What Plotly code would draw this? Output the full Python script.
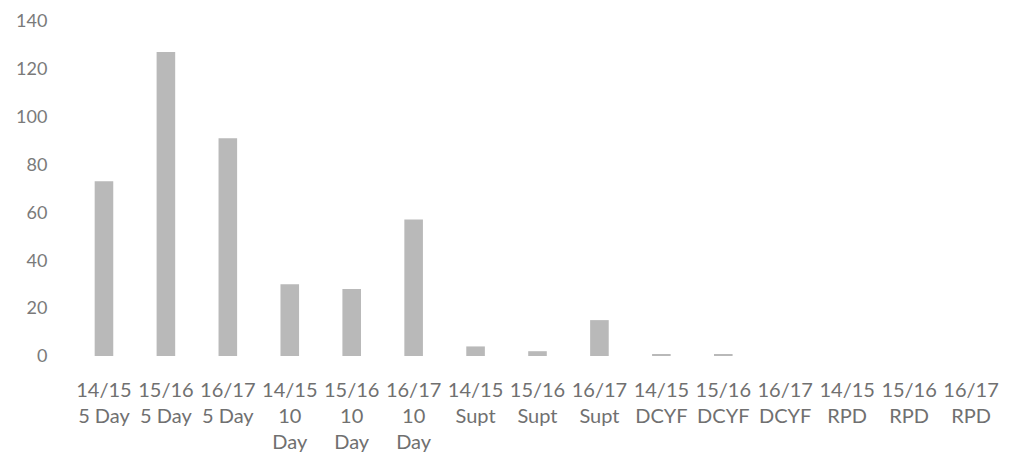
import plotly.graph_objects as go

periods = ["14/15", "15/16", "16/17"] * 5
programs = ["5 Day"] * 3 + ["10<br>Day"] * 3 + ["Supt"] * 3 + ["DCYF"] * 3 + ["RPD"] * 3
categories = [f"{p}<br>{g}" for p, g in zip(periods, programs)]
values = [73, 127, 91, 30, 28, 57, 4, 2, 15, 0.5, 0.5, 0, 0, 0, 0]
y_ticks = [0, 20, 40, 60, 80, 100, 120, 140]

fig = go.Figure(go.Bar(x=list(range(len(categories))), y=values,
                       marker=dict(color="#b9b9b9", line=dict(width=0))))

font = dict(family="Lato, 'Open Sans', sans-serif", size=20, color="#7a7a7a")
fig.update_layout(
    width=994, height=447,
    margin=dict(l=65, r=0, t=13, b=99, autoexpand=False),
    paper_bgcolor="white", plot_bgcolor="white",
    bargap=0.7, showlegend=False, font=font,
)
fig.update_xaxes(tickmode="array", tickvals=list(range(len(categories))), ticktext=categories,
                 range=[-0.5, len(categories) - 0.5], showgrid=False, zeroline=False,
                 showline=False, ticks="outside", ticklen=16, tickcolor="rgba(0,0,0,0)",
                 automargin=False, ticklabeloverflow="allow",
                 tickfont=dict(size=20, color="#707070"))
fig.update_yaxes(range=[0, 140], tickvals=y_ticks, showgrid=False, zeroline=False,
                 showline=False, ticks="outside", ticklen=21, tickcolor="rgba(0,0,0,0)",
                 automargin=False, ticklabeloverflow="allow",
                 tickfont=dict(size=18, color="#7a7a7a"))

fig.write_html("out.html")
